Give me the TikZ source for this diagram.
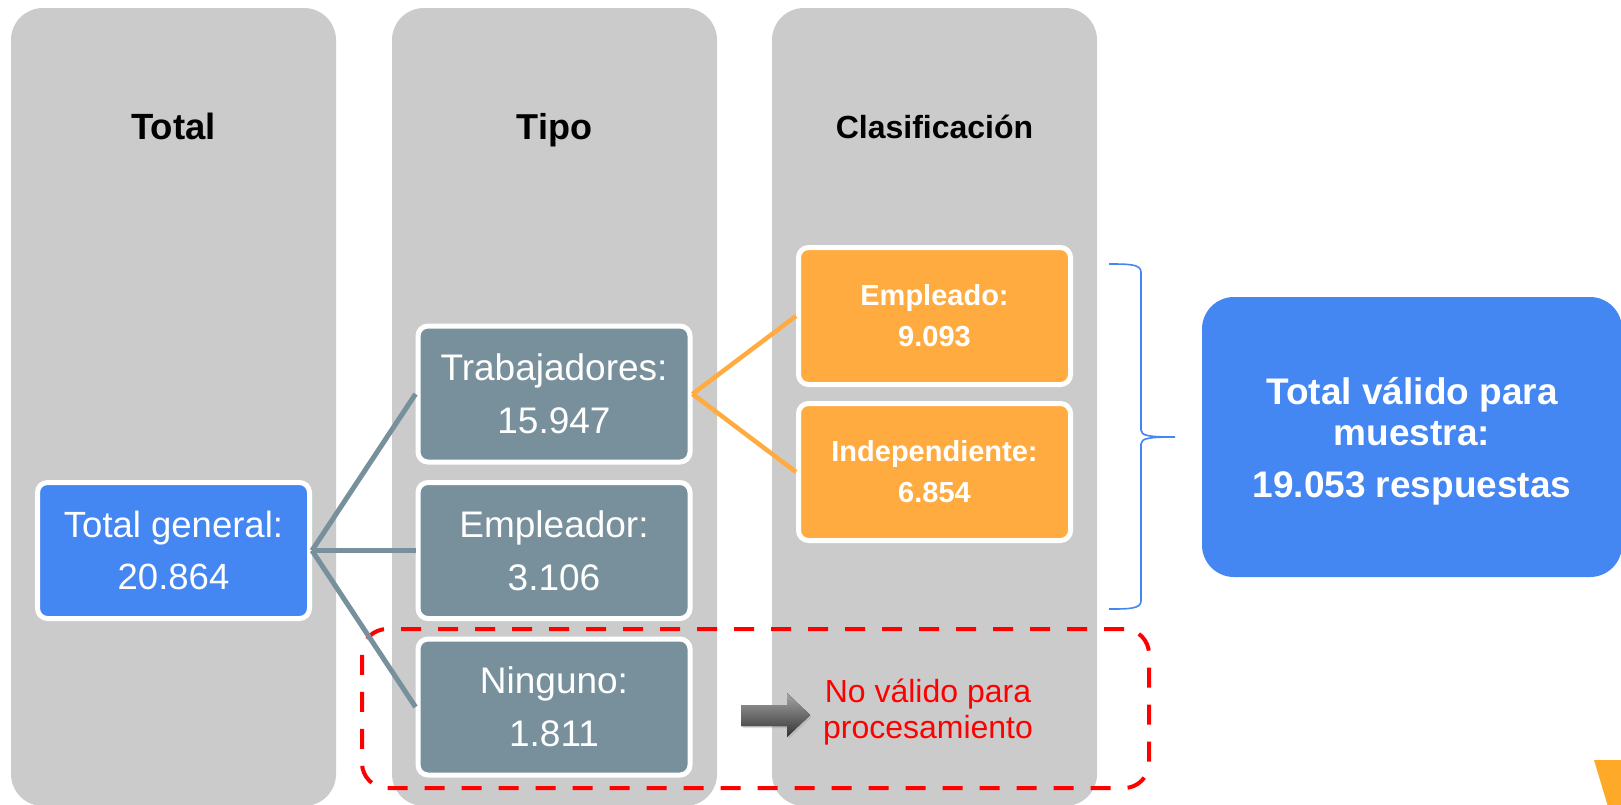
\documentclass[tikz,border=0pt]{standalone}
\usepackage{fontspec}
\setmainfont{Liberation Sans}
\usetikzlibrary{shadows}
\definecolor{colgray}{HTML}{CBCBCB}
\definecolor{boxblue}{HTML}{4486F2}
\definecolor{slate}{HTML}{78909C}
\definecolor{amber}{HTML}{FFAB40}
\definecolor{cornerorange}{HTML}{FFA928}
\begin{document}
\begin{tikzpicture}[x=1pt,y=-1pt,
  panel/.style={fill=colgray, rounded corners=32pt},
  hdr/.style={anchor=base, text=black, font=\bfseries\fontsize{36.5}{40}\selectfont},
  valbox/.style={draw=white, line width=5pt, rounded corners=10pt, minimum width=272pt,
    minimum height=136pt, inner sep=0pt, align=center, text=white},
  tipobox/.style={valbox, fill=slate, font=\fontsize{37}{53}\selectfont},
  totbox/.style={valbox, fill=boxblue, font=\fontsize{36.5}{52}\selectfont},
  clasbox/.style={valbox, fill=amber, minimum height=137pt, font=\bfseries\fontsize{29}{41}\selectfont},
  gline/.style={draw=slate, line width=5pt},
  oline/.style={draw=amber, line width=4.5pt},
  invalidbox/.style={draw=red, line width=4pt, dash pattern=on 20pt off 17pt, rounded corners=25pt,
    minimum width=787pt, minimum height=159pt, inner sep=0pt},
  bigbox/.style={fill=boxblue, rounded corners=32pt, minimum width=420pt, minimum height=280pt,
    inner sep=0pt},
  bigtext/.style={text=white, align=center, inner sep=0pt, font=\bfseries\fontsize{37}{41}\selectfont},
  redtext/.style={text=red, align=center, font=\fontsize{32}{36}\selectfont},
  bracket/.style={draw=boxblue, line width=1.6pt}
]
\useasboundingbox (0,0) rectangle (1621,804);
\clip (0,0) rectangle (1621,804);

% column panels
\fill[panel] (11,8) rectangle (336,806);
\fill[panel] (392,8) rectangle (717,806);
\fill[panel] (772,8) rectangle (1097,806);

% headers
\node[hdr] (hTotal) at (173.5,139) {Total};
\node[hdr, font=\bfseries\fontsize{36}{40}\selectfont] (hTipo) at (554.5,139) {Tipo};
\node[hdr, font=\bfseries\fontsize{32}{36}\selectfont] (hClas) at (934.5,138) {Clasificación};

% invalid region
\node[invalidbox] (invalid) at (755.5,708.5) {};

% boxes
\node[totbox] (tg) at (173.5,550.5) {Total general:\\20.864};
\node[tipobox] (trab) at (554,394) {Trabajadores:\\15.947};
\node[tipobox] (empl) at (554,550.5) {Empleador:\\3.106};
\node[tipobox] (ning) at (554,707) {Ninguno:\\1.811};
\node[clasbox] (emp) at (934.5,316) {Empleado:\\9.093};
\node[clasbox] (ind) at (934.5,472) {Independiente:\\6.854};

% connectors
\draw[gline] (tg.east) -- (trab.west);
\draw[gline] (tg.east) -- (empl.west);
\draw[gline] (tg.east) -- (ning.west);
\draw[oline] (trab.east) -- (emp.west);
\draw[oline] (trab.east) -- (ind.west);

% arrow and red text
\fill[top color=black!35, bottom color=black!80, drop shadow={opacity=0.25, shadow xshift=1.5pt, shadow yshift=-2pt}]
  (741,705) -- (787,705) -- (787,693) -- (810,715) -- (787,737) -- (787,726) -- (741,726) -- cycle;
\node[redtext] (novalid) at (928,712) {No válido para\\procesamiento};

% brace
\draw[bracket] (1109,264) .. controls (1128,264) and (1141,264) .. (1141,272)
  -- (1141,430) .. controls (1141,436) and (1150,437) .. (1175,437)
  .. controls (1150,437) and (1141,438) .. (1141,444)
  -- (1141,601) .. controls (1141,609) and (1128,609) .. (1109,609);

% result box
\node[bigbox] (valid) at (1412,437) {};
\node[bigtext] (validtxt) at (1412,441) {Total válido para\\muestra:\\[11pt]19.053 respuestas};

% corner decoration
\fill[cornerorange] (1594,760) -- (1625,760) -- (1625,810) -- (1609,810) -- cycle;
\end{tikzpicture}
\end{document}
